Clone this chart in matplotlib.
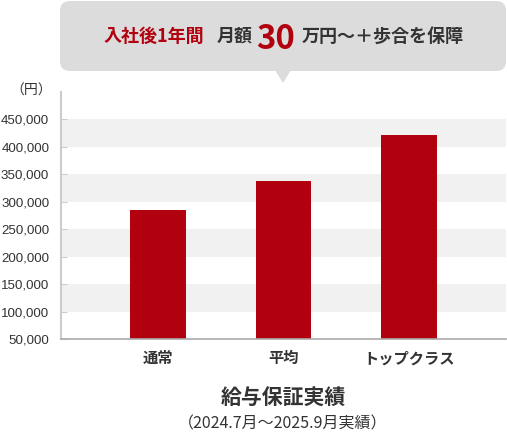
import matplotlib
matplotlib.use('Agg')
import matplotlib.pyplot as plt
from matplotlib.patches import FancyBboxPatch, Polygon
from matplotlib.ticker import FuncFormatter

plt.rcParams['font.family'] = ['Noto Sans CJK JP', 'DejaVu Sans']

# Data
categories = ['通常', '平均', 'トップクラス']
salaries = [285000, 338000, 421000]
y_ticks = [50000, 100000, 150000, 200000, 250000, 300000, 350000, 400000, 450000]
band_ranges = [(100000, 150000), (200000, 250000), (300000, 350000), (400000, 450000)]

bar_color = '#b1000e'
text_color = '#333333'
W, H = 507, 433

fig = plt.figure(figsize=(W / 100, H / 100), dpi=100)
ax = fig.add_axes([61 / W, (H - 339) / H, (506 - 61) / W, (339 - 92) / H])

# Gray bands
for lo, hi in band_ranges:
    ax.axhspan(lo, hi, color='#f1f1f1', zorder=0, lw=0)

x = range(len(categories))
ax.bar(x, salaries, width=0.446, color=bar_color, zorder=2)

ax.set_xlim(-0.773, 2.773)
ax.set_ylim(50000, 500000)
ax.set_yticks(y_ticks)
ax.yaxis.set_major_formatter(FuncFormatter(lambda v, p: f'{int(v):,}'))
ax.set_xticks(list(x))
ax.set_xticklabels(categories, fontsize=11, fontweight='bold', color=text_color)
ax.tick_params(axis='x', length=0, pad=8)
ax.tick_params(axis='y', direction='in', length=4.5, color='#cccccc', pad=8.5,
               labelsize=9.6, labelcolor=text_color)
for lbl in ax.get_yticklabels():
    lbl.set_family(['Liberation Sans', 'DejaVu Sans'])

for s in ['top', 'right']:
    ax.spines[s].set_visible(False)
ax.spines['left'].set_color('#cccccc')
ax.spines['left'].set_linewidth(1.5)
ax.spines['bottom'].set_color('#aaaaaa')
ax.spines['bottom'].set_linewidth(1.2)

# Overlay in pixel coordinates for bubble and captions
ov = fig.add_axes([0, 0, 1, 1], zorder=5)
ov.set_xlim(0, W)
ov.set_ylim(H, 0)
ov.axis('off')
ov.patch.set_visible(False)

bubble_color = '#dcdcdc'
ov.add_patch(FancyBboxPatch((60, 1), 446, 70, boxstyle='round,pad=0,rounding_size=10',
                            fc=bubble_color, ec='none'))
ov.add_patch(Polygon([(275, 70), (291, 70), (283, 83)], closed=True,
                     fc=bubble_color, ec='none'))

ov.text(104, 42, '入社後1年間', fontsize=13, fontweight='bold', color=bar_color,
        ha='left', va='baseline')
ov.text(217, 42, '月額', fontsize=13, fontweight='bold', color=text_color,
        ha='left', va='baseline')
ov.text(256, 49, '30', fontsize=23.6, fontweight='bold', color=bar_color,
        ha='left', va='baseline')
ov.text(302, 42, '万円〜＋歩合を保障', fontsize=13, fontweight='bold', color=text_color,
        ha='left', va='baseline')

ov.text(52, 91, '（円）', fontsize=10, color=text_color, ha='right', va='center')

ov.text(283, 398, '給与保証実績', fontsize=15, fontweight='bold', color=text_color,
        ha='center', va='center')
ov.text(283, 424, '（2024.7月～2025.9月実績）', fontsize=11.5, color=text_color,
        ha='center', va='center')

fig.savefig('out.png', dpi=100)
